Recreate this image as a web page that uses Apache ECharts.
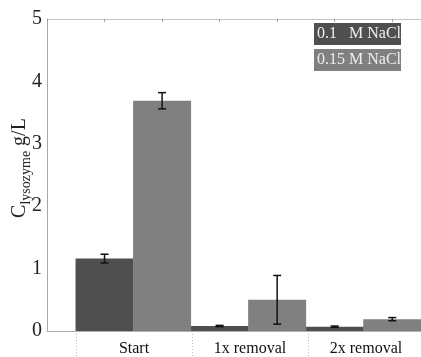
<!DOCTYPE html>
<html><head><meta charset="utf-8">
<script src="https://cdn.jsdelivr.net/npm/echarts@6/dist/echarts.min.js"></script>
<style>html,body{margin:0;padding:0;background:#fff}#c{width:421px;height:357px}</style>
</head><body><div id="c"></div>
<script>
var categories = ['Start', '1x removal', '2x removal'];
var seriesNames = ['0.1   M NaCl', '0.15 M NaCl'];
var nacl010 = [1.16, 0.08, 0.07];
var nacl010Err = [0.07, 0.01, 0.01];
var nacl015 = [3.69, 0.50, 0.19];
var nacl015Err = [0.13, 0.39, 0.025];
var yTicks = [0, 1, 2, 3, 4, 5];

var colors = ['#4f4f4f', '#808080'];
var serif = '"Liberation Serif", "DejaVu Serif", serif';

function pts(vals, off) { return vals.map(function (v, i) { return [2 * i + off, v]; }); }
function errPts(vals, errs, off) { return vals.map(function (v, i) { return [2 * i + off, v - errs[i], v + errs[i]]; }); }

var errData = errPts(nacl010, nacl010Err, 1).concat(errPts(nacl015, nacl015Err, 2));

var chart = echarts.init(document.getElementById('c'));
chart.setOption({
  animation: false,
  textStyle: { fontFamily: serif },
  grid: [
    { left: 47, right: 0, top: 19, bottom: 26, containLabel: false, outerBoundsMode: 'none' },
    { left: 76, right: -3, top: 334, bottom: 0, containLabel: false, outerBoundsMode: 'none' }
  ],
  legend: {
    orient: 'vertical', right: 20, top: 23, itemGap: 4, itemWidth: 0, itemHeight: 0, icon: 'rect',
    selectedMode: false, padding: 0,
    data: [
      { name: seriesNames[0], textStyle: { backgroundColor: colors[0] } },
      { name: seriesNames[1], textStyle: { backgroundColor: colors[1] } }
    ],
    textStyle: { fontFamily: serif, fontSize: 16, color: '#eeeeee', width: 82, overflow: 'none', padding: [3, 2, 3, 3] }
  },
  xAxis: [
    { type: 'value', gridIndex: 0, min: 0, max: 6.5, interval: 1, position: 'bottom',
      axisLine: { show: true, lineStyle: { color: '#b0b0b0', width: 1 } },
      axisTick: { show: false }, axisLabel: { show: false }, splitLine: { show: false } },
    { type: 'value', gridIndex: 0, min: 0, max: 6.5, interval: 1, position: 'top',
      axisLine: { show: true, lineStyle: { color: '#c4c4c4', width: 1 } },
      axisTick: { show: true, inside: true, length: 3, lineStyle: { color: '#a0a0a0' } },
      axisLabel: { show: false }, splitLine: { show: false } },
    { type: 'category', gridIndex: 1, data: categories, position: 'top', boundaryGap: true,
      axisLine: { show: true, lineStyle: { color: '#b8b8b8', type: [1, 2], width: 1 } },
      axisTick: { show: false },
      axisLabel: { inside: true, margin: 7, fontFamily: serif, fontSize: 16, color: '#111' },
      splitLine: { show: true, lineStyle: { color: '#b8b8b8', type: [1, 2], width: 1 } } }
  ],
  yAxis: [
    { type: 'value', gridIndex: 0, min: yTicks[0], max: yTicks[yTicks.length - 1], interval: 1,
      axisLine: { show: true, lineStyle: { color: '#a8a8a8', width: 1 } },
      axisTick: { show: false }, splitLine: { show: false },
      axisLabel: { margin: 5, fontFamily: serif, fontSize: 20, color: '#222' },
      name: '{c|C}{s|lysozyme}{c| g/L}', nameLocation: 'middle', nameGap: 17, nameRotate: 90,
      nameMoveOverlap: false,
      nameTextStyle: { fontFamily: serif, color: '#222', padding: [0, 0, 0, 14],
        rich: {
          c: { fontFamily: serif, fontSize: 20, color: '#222', verticalAlign: 'bottom', lineHeight: 22 },
          s: { fontFamily: serif, fontSize: 14, color: '#222', verticalAlign: 'bottom', lineHeight: 22, padding: [0, 0, -3, 0] }
        } } },
    { type: 'value', gridIndex: 1, show: false, min: 0, max: 1 }
  ],
  series: [
    { name: seriesNames[0], type: 'bar', xAxisIndex: 0, yAxisIndex: 0, data: pts(nacl010, 1),
      barWidth: 58, barGap: '-100%', itemStyle: { color: colors[0] } },
    { name: seriesNames[1], type: 'bar', xAxisIndex: 0, yAxisIndex: 0, data: pts(nacl015, 2),
      barWidth: 58, barGap: '-100%', itemStyle: { color: colors[1] } },
    { type: 'custom', xAxisIndex: 0, yAxisIndex: 0, data: errData, z: 10,
      renderItem: function (params, api) {
        var lo = api.coord([api.value(0), api.value(1)]);
        var hi = api.coord([api.value(0), api.value(2)]);
        var w = 4;
        var st = { stroke: '#111', lineWidth: 1.5 };
        return { type: 'group', children: [
          { type: 'line', shape: { x1: lo[0], y1: lo[1], x2: hi[0], y2: hi[1] }, style: st },
          { type: 'line', shape: { x1: lo[0] - w, y1: lo[1], x2: lo[0] + w, y2: lo[1] }, style: st },
          { type: 'line', shape: { x1: hi[0] - w, y1: hi[1], x2: hi[0] + w, y2: hi[1] }, style: st }
        ] };
      } }
  ]
});
</script></body></html>
